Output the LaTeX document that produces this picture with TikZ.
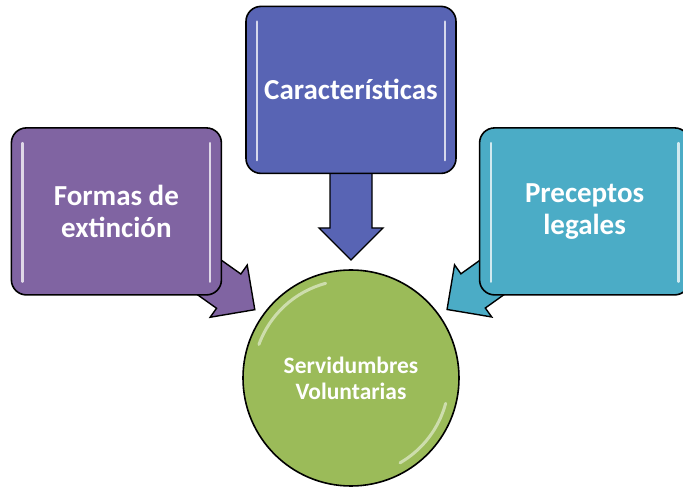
\documentclass[tikz,border=0pt]{standalone}
\usepackage{fontspec}
\setmainfont{Carlito}
\usetikzlibrary{positioning}
\usetikzlibrary{calc}
\usetikzlibrary{backgrounds}
\definecolor{formascol}{RGB}{128,100,162}
\definecolor{caraccol}{RGB}{88,100,180}
\definecolor{precepcol}{RGB}{75,172,198}
\definecolor{servcol}{RGB}{155,187,89}
% block arrow from the box #1 to the circle #2, filled with #3
\newcommand{\blockarrow}[3]{%
  \coordinate (arrtip)  at ($(#2.center)!118pt!(#1.center)$);
  \coordinate (arrbase) at ($(arrtip)!32pt!(#1.center)$);
  \coordinate (arrtail) at ($(arrbase)!60pt!(#1.center)$);
  \filldraw[bigarrow, fill=#3] (arrtip)
    -- ($(arrbase)!32pt!90:(#1.center)$) -- ($(arrbase)!21pt!90:(#1.center)$)
    -- ($(arrtail)!21pt!90:(#1.center)$) -- ($(arrtail)!21pt!-90:(#1.center)$)
    -- ($(arrbase)!21pt!-90:(#1.center)$) -- ($(arrbase)!32pt!-90:(#1.center)$)
    -- cycle;}

\begin{document}
\begin{tikzpicture}[x=1pt, y=1pt,
  box/.style={draw=black, line width=1.6pt, rounded corners=15pt, minimum width=210pt,
              minimum height=167pt, align=center, text=white, font=\bfseries\fontsize{29}{32}\selectfont},
  hub/.style={circle, draw=black, line width=1.6pt, fill=servcol, minimum size=216pt, inner sep=0pt,
              align=center, text=white, font=\bfseries\fontsize{23.5}{26}\selectfont},
  bigarrow/.style={draw=black, line width=1.4pt, line join=miter},
  gloss/.style={draw=white, line width=2.5pt, opacity=0.75, line cap=round}]
\useasboundingbox[clip] (0,0) rectangle (683,487);
%\draw [help lines, step=50] (0,0) grid (683,487);

\node[hub] at (351,109)                            (serv)   {Servidumbres\\Voluntarias};
\node[box, fill=caraccol, above = 95pt of serv]    (carac)  {Características};
\node[box, fill=formascol, left = 23pt of carac, yshift = -121.5pt]  (formas) {Formas de\\extinción};
\node[box, fill=precepcol, right = 22pt of carac, yshift = -121.5pt] (precep) {Preceptos\\legales};

% Arrows
\begin{pgfonlayer}{background}
\blockarrow{formas}{serv}{formascol}
\blockarrow{carac}{serv}{caraccol}
\blockarrow{precep}{serv}{precepcol}
\end{pgfonlayer}

% Gloss
\foreach \b in {formas, carac, precep} {
  \draw[gloss] ([xshift=12pt, yshift=-16pt]\b.north west) -- ([xshift=12pt, yshift=14pt]\b.south west);
  \draw[gloss] ([xshift=-12pt, yshift=-16pt]\b.north east) -- ([xshift=-12pt, yshift=14pt]\b.south east);
}
\draw[gloss, line width=3pt, opacity=0.5] ($(serv.center)+(105:98pt)$) arc[start angle=105, end angle=160, radius=98pt];
\draw[gloss, line width=3pt, opacity=0.5] ($(serv.center)+(-15:98pt)$) arc[start angle=-15, end angle=-60, radius=98pt];
\end{tikzpicture}
\end{document}
